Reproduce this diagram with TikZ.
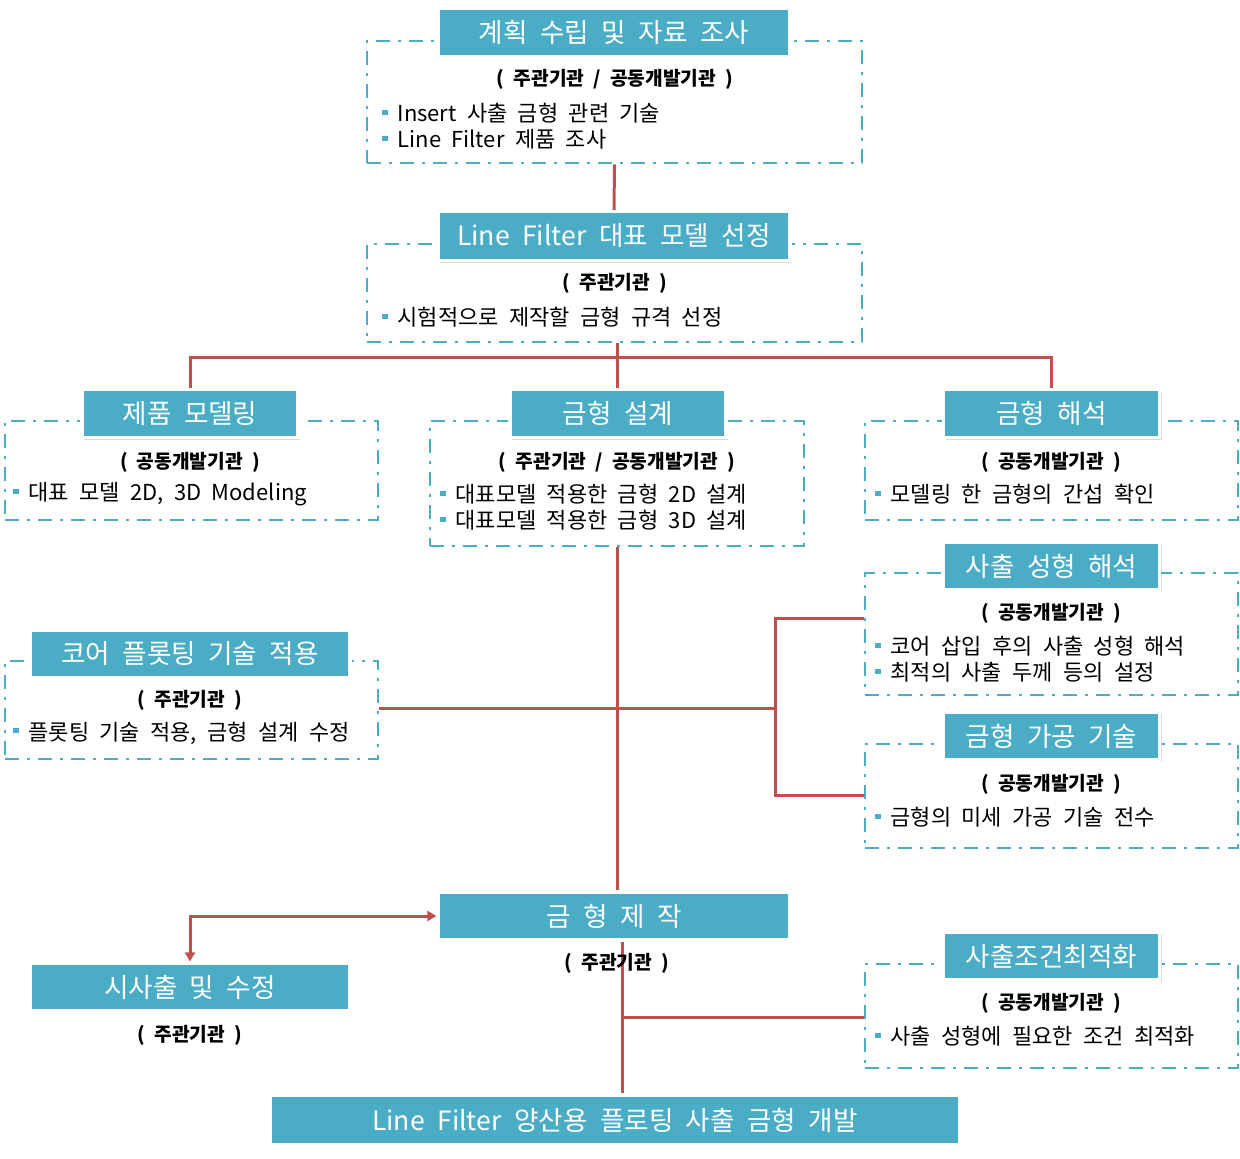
\documentclass[tikz,border=0pt]{standalone}
\usepackage{fontspec}
\setmainfont{Noto Sans CJK KR}[WordSpace=2.1]
\usetikzlibrary{shadows,arrows.meta,backgrounds}
\definecolor{tealc}{HTML}{4BACC6}
\definecolor{redc}{HTML}{C0504D}
\definecolor{dashc}{HTML}{4BACC6}
\newcommand\bul{\textcolor{tealc}{\rule[0.3em]{2.6pt}{2.6pt}}\hspace{5pt}}
\begin{document}
\begin{tikzpicture}[x=0.5pt,y=-0.5pt,
  title/.style={fill=tealc, draw=white, line width=1.6pt, text=white,
    font=\fontsize{13.3}{15}\selectfont, inner sep=0pt,
    drop shadow={shadow xshift=1pt,shadow yshift=-1.2pt,opacity=0.3}},
  dbox/.style={draw=dashc, line width=1.4pt, dash pattern=on 7pt off 4pt on 1.5pt off 4pt, inner sep=0pt},
  org/.style={font=\fontsize{9.6}{11}\selectfont\bfseries, inner sep=0pt},
  blist/.style={font=\fontsize{11}{13}\selectfont, align=left, anchor=west, inner sep=0pt},
  link/.style={draw=redc, line width=1.5pt},
  arr/.style={link, {Triangle[width=5pt,length=4.5pt]}-{Triangle[width=5pt,length=4.5pt]}},
]
\useasboundingbox (0,0) rectangle (1240,1159);

% dashed boxes
\node[dbox, minimum width=247.5pt, minimum height=61pt] (d1) at (614.5,102) {};
\node[dbox, minimum width=247.5pt, minimum height=49pt] (d2) at (614.5,293) {};
\node[dbox, minimum width=186.5pt, minimum height=49.5pt] (d3) at (191.5,470.5) {};
\node[dbox, minimum width=187pt, minimum height=62.5pt] (d4) at (617,483.5) {};
\node[dbox, minimum width=186.5pt, minimum height=49.5pt] (d5) at (1051.5,470.5) {};
\node[dbox, minimum width=186.5pt, minimum height=61pt] (d6) at (1051.5,634) {};
\node[dbox, minimum width=186.5pt, minimum height=52pt] (d7) at (1051.5,796) {};
\node[dbox, minimum width=186.5pt, minimum height=49pt] (d8) at (191.5,710) {};
\node[dbox, minimum width=186.5pt, minimum height=52pt] (d11) at (1051.5,1016) {};

% title boxes
\node[title, minimum width=176pt, minimum height=24.5pt] (t1) at (614,32.5) {계획 수립 및 자료 조사};
\node[title, minimum width=176pt, minimum height=24.5pt] (t2) at (614,236) {Line Filter 대표 모델 선정};
\node[title, minimum width=108pt, minimum height=24pt] (t3) at (190,413.5) {제품 모델링};
\node[title, minimum width=108pt, minimum height=24pt] (t4) at (618,413.5) {금형 설계};
\node[title, minimum width=108pt, minimum height=24pt] (t5) at (1051.5,413.5) {금형 해석};
\node[title, minimum width=108pt, minimum height=24pt] (t6) at (1051.5,566) {사출 성형 해석};
\node[title, minimum width=108pt, minimum height=24pt] (t7) at (1051.5,736) {금형 가공 기술};
\node[title, minimum width=160pt, minimum height=24pt] (t8) at (190,654) {코어 플롯팅 기술 적용};
\node[title, minimum width=176pt, minimum height=24pt] (t9) at (614,916) {금 형 제 작};
\node[title, minimum width=160pt, minimum height=24pt] (t10) at (190,987) {시사출 및 수정};
\node[title, minimum width=108pt, minimum height=24pt] (t11) at (1051.5,956) {사출조건최적화};
\node[title, minimum width=345pt, minimum height=25pt] (t12) at (615,1120) {Line Filter 양산용 플로팅 사출 금형 개발};

% organisation labels
\node[org] (o1) at (615,79) {( 주관기관 / 공동개발기관 )};
\node[org] (o2) at (615,283) {( 주관기관 )};
\node[org] (o3) at (190,462) {( 공동개발기관 )};
\node[org] (o4) at (617,462) {( 주관기관 / 공동개발기관 )};
\node[org] (o5) at (1051,462) {( 공동개발기관 )};
\node[org] (o6) at (1051,613) {( 공동개발기관 )};
\node[org] (o7) at (1051,784) {( 공동개발기관 )};
\node[org] (o8) at (190,700) {( 주관기관 )};
\node[org] (o9) at (617,963) {( 주관기관 )};
\node[org] (o10) at (190,1035) {( 주관기관 )};
\node[org] (o11) at (1051,1003) {( 공동개발기관 )};

% bullet lists
\node[blist] (l1) at (382,126) {\bul Insert 사출 금형 관련 기술\\\bul Line Filter 제품 조사};
\node[blist] (l2) at (382,317) {\bul 시험적으로 제작할 금형 규격 선정};
\node[blist] (l3) at (13,494) {\bul 대표 모델 2D, 3D Modeling};
\node[blist] (l4) at (440,507) {\bul 대표모델 적용한 금형 2D 설계\\\bul 대표모델 적용한 금형 3D 설계};
\node[blist] (l5) at (875,494) {\bul 모델링 한 금형의 간섭 확인};
\node[blist] (l6) at (875,659) {\bul 코어 삽입 후의 사출 성형 해석\\\bul 최적의 사출 두께 등의 설정};
\node[blist] (l7) at (875,817) {\bul 금형의 미세 가공 기술 전수};
\node[blist] (l8) at (13,733) {\bul 플롯팅 기술 적용, 금형 설계 수정};
\node[blist] (l11) at (875,1036) {\bul 사출 성형에 필요한 조건 최적화};

% connectors
\coordinate (bus) at (617,358);
\coordinate (bt) at (775,618);
\coordinate (bm) at (775,708);
\coordinate (bb) at (775,795);
\coordinate (vx) at (622,1017);
\begin{scope}[on background layer]
\draw[link] (d1.south) -- (t2.north);
\draw[link] (bus |- d2.south) -- (bus);
\draw[link] (t3.north) |- (bus) -| (t5.north);
\draw[link] (bus) -- (bus |- t4.north);
\draw[link] (bus |- d4.south) -- (bus |- t9.north);
\draw[link] (d8.east |- bm) -- (bm);
\draw[link] (d6.west |- bt) -- (bt) -- (bb) -- (d7.west |- bb);
\draw[arr] (t10.north) |- (t9.west);
\draw[link] (t9.south -| vx) -- (t12.north -| vx);
\draw[link] (vx) -- (d11.west |- vx);
\end{scope}
\end{tikzpicture}
\end{document}
